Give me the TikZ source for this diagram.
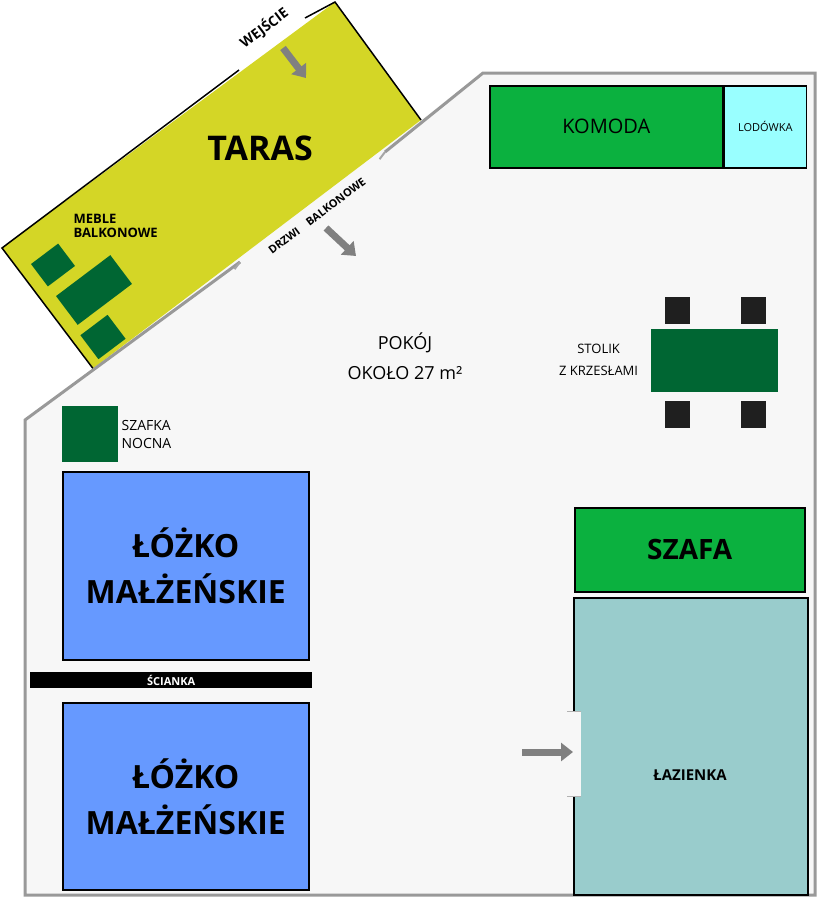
\documentclass[tikz,border=0pt]{standalone}
\usepackage{fontspec}
\setmainfont{Open Sans}
\usetikzlibrary{arrows.meta, positioning}

\definecolor{terrace}{HTML}{D4D626}
\definecolor{floorc}{HTML}{F7F7F7}
\definecolor{furn}{HTML}{0BB13F}
\definecolor{darkfurn}{HTML}{006633}
\definecolor{fridge}{HTML}{99FFFF}
\definecolor{bed}{HTML}{6699FF}
\definecolor{bath}{HTML}{99CCCC}

\tikzset{
  piece/.style={draw=black, line width=1.5pt, inner sep=0pt},
  darkpiece/.style={fill=darkfurn, inner sep=0pt},
  chair/.style={fill=black!88, inner sep=0pt, minimum width=25pt, minimum height=27pt},
  walk/.style={gray, line width=7pt, -{Triangle[length=12pt, width=18pt]}},
  lbl/.style={font=\fontsize{13}{15}\selectfont, align=center, inner sep=0pt},
}

\begin{document}
\begin{tikzpicture}[x=1pt, y=-1pt]
\useasboundingbox (0,0) rectangle (818,900);

% room
\coordinate (rA) at (25,420);
\coordinate (rB) at (483,73);
\fill[floorc] (rA) -- (rB) -- (815,73) -- (815,895) -- (25,895) -- cycle;

% terrace
\coordinate (tL) at (2,248);
\coordinate (tT) at (335,2);
\coordinate (tR) at (421,120);
\coordinate (tB) at (93,368.5);
\fill[terrace] (tL) -- (tT) -- (tR) -- (tB) -- cycle;
\draw[line width=1.5pt] (239,70) -- (tL) -- (tB);
\draw[line width=1.5pt] (305,18) -- (tT) -- (tR);

\draw[gray!80, line width=3pt] (240,262) -- (rA) -- (25,895) -- (815,895) -- (815,73) -- (rB) -- (385,152);
\draw[gray!70, line width=2pt] (240,262) -- +(127:9);
\draw[gray!70, line width=2pt] (385,152) -- +(127:9);

\node[font=\bfseries\fontsize{34}{36}\selectfont] (taras) at (260,148) {TARAS};
\node[font=\bfseries\fontsize{13}{14}\selectfont, align=left, anchor=west] (meble) at (70,226) {MEBLE\\BALKONOWE};
\node[font=\bfseries\fontsize{14}{15}\selectfont, rotate=37] (wejscie) at (264,28) {WEJŚCIE};
\node[font=\bfseries\fontsize{11}{12}\selectfont, rotate=37] (drzwi) at (317,216) {DRZWI\quad BALKONOWE};

\node[darkpiece, rotate=37, minimum width=34pt, minimum height=28pt] (chair1) at (53,265) {};
\node[darkpiece, rotate=37, minimum width=68pt, minimum height=36pt] (sofa) at (94,290) {};
\node[darkpiece, rotate=37, minimum width=34pt, minimum height=30pt] (chair2) at (103,337) {};

\coordinate (wIn) at (283,48);
\coordinate (wOut) at (306,78);
\draw[walk] (wIn) -- (wOut);
\coordinate (dIn) at (326,228);
\coordinate (dOut) at (356,256);
\draw[walk] (dIn) -- (dOut);

% top wall
\node[piece, fill=furn, minimum width=233pt, minimum height=82pt, anchor=north west, font=\fontsize{20}{22}\selectfont] (komoda) at (489,85) {KOMODA};
\node[piece, fill=fridge, minimum width=82pt, minimum height=82pt, anchor=west, font=\fontsize{11}{12}\selectfont] (lodowka) at (komoda.east) {LODÓWKA};

\node[lbl, font=\fontsize{18}{30}\selectfont] (pokoj) at (405,356) {POKÓJ\\OKOŁO 27 m²};

% table
\node[darkpiece, minimum width=127pt, minimum height=63pt] (stolik) at (714,360) {};
\node[chair] (c1) at (677,310) {};
\node[chair] (c2) at (753,310) {};
\node[chair] (c3) at (677,414) {};
\node[chair] (c4) at (753,414) {};
\node[lbl, font=\fontsize{13}{22}\selectfont, left=12pt of stolik] (stoliklbl) {STOLIK\\Z KRZESŁAMI};

% left side
\node[darkpiece, minimum width=56pt, minimum height=56pt, anchor=north west] (szafka) at (62,406) {};
\node[lbl, align=left, anchor=west, font=\fontsize{14}{18}\selectfont] (szafkalbl) at ([xshift=3pt]szafka.east) {SZAFKA\\NOCNA};

\node[piece, fill=bed, minimum width=246pt, minimum height=188pt, anchor=north west, align=center,
  font=\bfseries\fontsize{32}{46}\selectfont] (lozko1) at (62,471) {ŁÓŻKO\\MAŁŻEŃSKIE};
\node[fill=black, minimum width=282pt, minimum height=16pt, inner sep=0pt, anchor=north west,
  text=white, font=\bfseries\fontsize{11}{12}\selectfont] (scianka) at (30,672) {ŚCIANKA};
\node[piece, fill=bed, minimum width=246pt, minimum height=187pt, anchor=north west, align=center,
  font=\bfseries\fontsize{32}{46}\selectfont] (lozko2) at (62,702) {ŁÓŻKO\\MAŁŻEŃSKIE};

% right side
\node[piece, fill=furn, minimum width=230pt, minimum height=84pt, anchor=north west,
  font=\bfseries\fontsize{28}{30}\selectfont] (szafa) at (574,507) {SZAFA};
\node[piece, fill=bath, minimum width=234pt, minimum height=297pt, anchor=north west] (lazienka) at (573,597) {};
\node[font=\bfseries\fontsize{15}{16}\selectfont] (lazienkalbl) at (690,775) {ŁAZIENKA};
\fill[floorc] (567,711) rectangle (581,796);
\draw[gray!60, line width=1pt] (567,711) -- (581,711) (567,796) -- (581,796);
\coordinate (bIn) at (522,752);
\draw[walk] (bIn) -- (lazienka.west |- bIn);
\end{tikzpicture}
\end{document}
